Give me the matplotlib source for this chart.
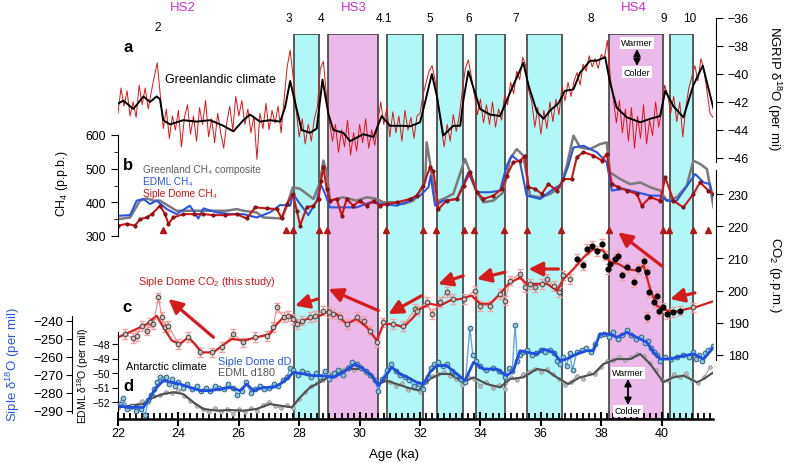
import numpy as np
import matplotlib
matplotlib.use("Agg")
import matplotlib.pyplot as plt
from matplotlib.ticker import MultipleLocator
from matplotlib.transforms import blended_transform_factory

plt.rcParams['font.family'] = ['Liberation Sans', 'DejaVu Sans']
plt.rcParams['mathtext.default'] = 'regular'

# ---------------- data ----------------
cyan_bands = [(27.83, 28.66), (30.90, 32.10), (32.56, 33.43), (33.85, 34.82), (35.54, 36.70), (40.26, 41.05)]
pink_bands = [(28.95, 30.61), (38.27, 40.04)]

do_labels = ['2', '3', '4', '4.1', '5', '6', '7', '8', '9', '10']
do_ages = [23.3, 27.66, 28.72, 30.81, 32.33, 33.62, 35.18, 37.66, 40.08, 40.94]
hs_labels = ['HS2', 'HS3', 'HS4']
hs_ages = [24.15, 29.81, 39.09]

# NGRIP d18O, 0.1 ka steps from 22.0 ka
ngrip_raw = [
    -42.8, -41.0, -42.3, -41.2, -43.0, -42.0, -43.1, -40.8, -42.2, -41.0,
    -42.5, -41.3, -40.2, -39.2, -41.5, -43.9, -42.5, -44.6, -43.0, -44.0,
    -42.6, -45.2, -43.1, -42.2, -44.3, -43.0, -44.8, -42.4, -43.6, -41.9,
    -44.5, -43.2, -44.9, -42.8, -44.2, -45.3, -43.5, -42.3, -44.0, -41.6,
    -43.0, -41.9, -43.6, -42.5, -44.2, -43.0, -46.1, -42.8, -43.9, -42.1,
    -44.0, -42.6, -43.5, -42.3, -44.2, -41.8, -39.5, -38.3, -40.2, -42.6,
    -44.5, -43.2, -45.0, -43.6, -44.8, -43.2, -42.4, -39.6, -39.1, -41.5,
    -43.4, -44.8, -43.6, -45.6, -44.0, -45.2, -43.3, -45.8, -44.2, -45.5,
    -43.6, -44.9, -43.2, -45.3, -44.0, -45.1, -43.5, -42.0, -43.6, -42.4,
    -44.5, -42.7, -44.2, -43.0, -44.8, -42.6, -44.0, -43.1, -44.6, -43.0,
    -42.8, -41.5, -40.6, -39.8, -39.4, -40.5, -42.0, -43.8, -45.2, -43.6,
    -44.8, -42.9, -44.1, -43.0, -41.2, -39.6, -39.0, -40.2, -41.5, -42.9,
    -41.8, -43.5, -42.2, -43.6, -42.0, -43.8, -42.5, -43.3, -41.5, -42.2,
    -40.6, -41.4, -39.8, -40.4, -38.8, -39.4, -41.2, -42.0, -43.8, -42.4,
    -44.3, -42.6, -43.9, -42.0, -43.4, -41.8, -42.9, -40.9, -41.9, -40.6,
    -41.6, -40.5, -39.9, -40.8, -39.3, -39.8, -38.7, -39.5, -38.9, -39.6,
    -38.6, -38.9, -37.6, -40.2, -41.8, -43.5, -41.9, -44.2, -42.5, -44.8,
    -42.4, -45.3, -43.0, -44.6, -42.2, -45.0, -43.3, -44.4, -42.0, -43.8,
    -42.6, -40.8, -41.5, -42.8, -41.6, -43.4, -42.0, -44.5, -42.4, -41.0,
    -40.2, -39.4, -40.5, -38.9, -39.7, -41.2, -42.8, -43.1]
ngrip_smooth_age = [22.01, 22.18, 22.51, 22.84, 23.06, 23.28, 23.39, 23.5, 23.72, 24.16,
                    24.6, 25.05, 25.49, 25.82, 26.15, 26.37, 26.7, 27.03, 27.37, 27.53,
                    27.7, 27.86, 28.08, 28.36, 28.58, 28.77, 28.97, 29.13, 29.46, 29.68,
                    30.12, 30.46, 30.73, 31.01, 31.45, 31.67, 32.0, 32.17, 32.39, 32.55,
                    32.77, 33.1, 33.33, 33.44, 33.6, 33.77, 33.99, 34.32, 34.65, 34.87,
                    35.09, 35.42, 35.59, 35.87, 36.09, 36.31, 36.58, 36.8, 37.08, 37.3,
                    37.63, 37.85, 38.13, 38.29, 38.51, 38.85, 39.29, 39.62, 39.95, 40.12,
                    40.39, 40.72, 41.05, 41.36, 41.72]
ngrip_smooth = [-42.1, -41.9, -42.5, -41.6, -42.0, -41.6, -41.8, -43.3, -43.6, -43.3,
                -43.4, -43.3, -43.7, -44.1, -43.3, -42.9, -43.4, -43.3, -43.4, -42.4,
                -40.5, -42.0, -44.0, -44.2, -43.9, -40.4, -42.9, -44.0, -44.2, -44.8,
                -44.3, -44.5, -43.0, -43.7, -43.7, -43.74, -43.45, -42.0, -40.0, -41.5,
                -44.4, -43.7, -43.7, -41.8, -39.8, -41.0, -42.5, -42.9, -43.0, -41.9,
                -40.8, -39.2, -40.8, -42.7, -43.2, -42.6, -42.1, -41.2, -41.1, -39.9,
                -39.05, -39.05, -38.8, -40.6, -42.4, -43.1, -43.45, -43.2, -43.0, -41.2,
                -42.3, -43.1, -40.8, -39.4, -42.5]

# CH4 (ppb)
grl_ch4_age = [22.0, 22.4, 22.73, 22.95, 23.17, 23.39, 23.94, 24.5, 25.05, 25.6,
               25.93, 26.15, 26.59, 26.81, 27.42, 27.59, 27.79, 28.03, 28.47, 28.69,
               28.8, 28.91, 29.02, 29.46, 29.9, 30.24, 30.57, 30.79, 31.12, 31.45,
               31.78, 32.0, 32.17, 32.22, 32.33, 32.5, 32.77, 33.1, 33.49, 33.66,
               33.88, 34.1, 34.43, 34.76, 34.98, 35.2, 35.42, 35.64, 35.98, 36.31,
               36.64, 36.86, 37.08, 37.3, 37.63, 37.96, 38.18, 38.29, 38.63, 38.96,
               39.29, 39.62, 39.95, 40.17, 40.5, 40.83, 41.05, 41.27, 41.5, 41.72]
grl_ch4 = [350, 355, 405, 412, 405, 405, 375, 375, 375, 375,
           380, 375, 370, 355, 352, 390, 445, 440, 410, 460,
           524, 489, 405, 415, 405, 415, 410, 400, 400, 395,
           405, 435, 460, 578, 519, 400, 410, 425, 529, 489,
           430, 400, 405, 430, 529, 558, 539, 420, 415, 425,
           445, 509, 598, 563, 558, 573, 578, 489, 469, 454,
           459, 445, 435, 405, 415, 449, 524, 514, 499, 385]
edml_ch4_age = [22.0, 22.4, 22.62, 22.84, 23.06, 23.28, 23.61, 23.94, 24.38, 24.66,
                24.83, 25.27, 25.71, 26.15, 26.59, 27.03, 27.37, 27.7, 27.79, 28.03,
                28.3, 28.58, 28.71, 28.86, 29.02, 29.46, 29.9, 30.35, 30.79, 31.23,
                31.67, 32.0, 32.28, 32.35, 32.5, 32.77, 33.22, 33.6, 33.88, 34.32,
                34.65, 34.87, 35.04, 35.31, 35.53, 35.98, 36.42, 36.69, 36.91, 37.08,
                37.41, 37.85, 38.18, 38.35, 38.74, 39.18, 39.62, 39.95, 40.17, 40.5,
                41.11, 41.39, 41.6, 41.77]
edml_ch4 = [360, 362, 405, 410, 395, 405, 380, 365, 390, 352,
            382, 370, 365, 365, 355, 370, 392, 390, 425, 395,
            362, 405, 454, 425, 385, 385, 385, 400, 395, 390,
            405, 420, 445, 479, 390, 405, 410, 489, 430, 430,
            435, 509, 539, 519, 420, 410, 440, 454, 509, 563,
            568, 549, 519, 435, 440, 430, 420, 420, 405, 405,
            484, 459, 454, 390]
siple_ch4_age = [22.0, 22.29, 22.56, 22.73, 22.95, 23.12, 23.39, 23.56, 23.67, 23.83,
                 24.16, 24.5, 24.83, 25.16, 25.54, 25.93, 26.26, 26.54, 26.92, 27.26,
                 27.42, 27.59, 27.79, 27.92, 28.03, 28.25, 28.47, 28.64, 28.72, 28.8,
                 28.91, 29.02, 29.24, 29.41, 29.57, 29.79, 30.02, 30.24, 30.46, 30.68,
                 30.9, 31.23, 31.67, 31.89, 32.11, 32.33, 32.44, 32.61, 32.88, 33.22,
                 33.44, 33.66, 33.88, 34.1, 34.43, 34.71, 34.87, 35.09, 35.31, 35.48,
                 35.59, 35.81, 36.03, 36.25, 36.53, 36.75, 37.02, 37.19, 37.41, 37.74,
                 38.02, 38.18, 38.35, 38.57, 38.85, 39.18, 39.34, 39.62, 39.95, 40.12,
                 40.39, 40.72, 41.05, 41.27, 41.55, 41.72]
siple_ch4 = [331, 336, 331, 350, 355, 365, 390, 365, 336, 355,
             365, 365, 365, 362, 362, 365, 352, 385, 382, 380,
             352, 395, 425, 375, 331, 385, 390, 410, 464, 504,
             440, 405, 410, 360, 410, 390, 405, 390, 405, 390,
             395, 400, 410, 420, 450, 504, 494, 380, 405, 410,
             450, 489, 430, 410, 420, 440, 479, 519, 524, 539,
             445, 440, 425, 454, 435, 469, 469, 534, 549, 539,
             524, 544, 454, 445, 435, 425, 390, 415, 405, 474,
             405, 385, 425, 459, 435, 425]
onset_ages = [23.5, 27.56, 27.79, 28.64, 28.93, 30.88, 32.11, 32.53, 33.44, 33.79,
              34.79, 35.53, 36.67, 38.27, 40.03, 40.25, 41.03, 41.53]

# Siple Dome CO2 (ppm)
co2_line_age = [22.01, 22.29, 22.62, 22.95, 23.28, 23.5, 23.78, 24.05, 24.33, 24.55,
                24.77, 25.16, 25.38, 25.77, 26.15, 26.59, 27.03, 27.26, 27.48, 27.75,
                27.97, 28.25, 28.58, 28.91, 29.24, 29.57, 29.9, 30.24, 30.57, 30.79,
                31.12, 31.45, 31.78, 32.0, 32.33, 32.66, 32.99, 33.33, 33.71, 33.99,
                34.32, 34.65, 34.93, 35.31, 35.53, 35.87, 36.2, 36.53, 36.75, 37.08,
                37.41, 37.74, 38.07, 38.29, 38.57, 38.85, 39.18, 39.4, 39.62, 39.84,
                40.17, 40.5, 40.83, 41.11, 41.77]
co2_line = [185.5, 186.7, 188.1, 189.6, 192.2, 188.6, 184.5, 183.4, 185.5, 183.4,
            180.8, 180.8, 182.4, 185.0, 184.5, 185.5, 186.5, 189.6, 191.7, 192.2,
            189.6, 191.2, 191.7, 193.3, 192.7, 189.6, 191.2, 188.6, 184.5, 189.6,
            189.6, 188.6, 191.7, 194.3, 195.9, 195.3, 196.9, 197.4, 198.4, 195.9,
            195.9, 199.0, 202.1, 204.1, 202.1, 202.1, 202.1, 200.0, 203.6, 206.7,
            210.3, 212.9, 212.4, 208.8, 208.3, 206.7, 206.2, 207.8, 200.5, 195.3,
            193.8, 193.5, 194.3, 194.8, 196.9]
co2_age = [22.23, 22.51, 22.62, 22.78, 22.95, 23.06, 23.17, 23.34, 23.45, 23.56,
           23.67, 24.0, 24.33, 24.72, 25.1, 25.43, 25.82, 26.15, 26.54, 26.92,
           27.14, 27.26, 27.48, 27.64, 27.81, 27.92, 28.08, 28.36, 28.53, 28.8,
           28.97, 29.13, 29.35, 29.57, 29.9, 30.13, 30.35, 30.57, 30.79, 31.12,
           31.45, 31.84, 31.89, 32.22, 32.39, 32.66, 32.88, 33.1, 33.44, 33.82,
           33.99, 34.32, 34.65, 34.82, 34.98, 35.31, 35.48, 35.64, 35.81, 36.03,
           36.2, 36.42, 36.6, 36.75, 36.97, 41.05]
co2_val = [186.5, 185.2, 186.0, 189.1, 187.6, 190.1, 189.6, 197.9, 191.7, 188.6,
           189.1, 183.4, 185.5, 180.8, 180.8, 182.4, 186.5, 183.9, 185.5, 186.0,
           188.6, 194.8, 191.7, 192.2, 191.2, 189.6, 190.7, 191.7, 192.2, 193.8,
           193.3, 192.7, 191.7, 189.6, 191.7, 190.7, 187.6, 183.9, 190.1, 189.6,
           189.1, 194.3, 193.8, 196.4, 192.8, 196.4, 199.5, 197.4, 197.4, 200.0,
           195.3, 195.3, 199.0, 196.9, 203.1, 205.2, 201.0, 202.1, 201.0, 202.1,
           203.6, 201.5, 199.5, 204.7, 203.6, 194.8]
co2_black_age = [37.19, 37.41, 37.52, 37.69, 37.85, 38.02, 38.13, 38.24, 38.29, 38.46,
                 38.57, 38.68, 38.85, 39.07, 39.23, 39.4, 39.51, 39.51, 39.57, 39.73,
                 39.84, 39.9, 40.06, 40.17, 40.39, 40.61]
co2_black_val = [209.8, 207.8, 212.9, 214.0, 212.4, 214.5, 210.9, 206.7, 208.3, 209.8,
                 210.9, 204.7, 207.2, 202.6, 206.7, 209.3, 205.7, 191.7, 199.5, 196.4,
                 198.4, 193.8, 194.8, 192.8, 193.3, 193.8]
co2_err = 1.5
co2_arrows = [((25.16, 185.5), (23.67, 197.4)), ((28.62, 197.4), (27.86, 195.3)),
              ((30.62, 193.8), (28.97, 200.5)), ((32.05, 198.4), (30.95, 192.7)),
              ((33.43, 204.6), (32.60, 202.0)), ((34.81, 205.7), (33.88, 203.6)),
              ((36.58, 206.7), (35.59, 206.7)), ((40.00, 207.7), (38.56, 218.1)),
              ((41.10, 199.3), (40.28, 197.4))]

# Siple Dome dD (per mil)
sd_dd_age = [22.05, 22.15, 22.3, 22.45, 22.6, 22.75, 22.9, 23.0, 23.1, 23.2,
             23.3, 23.4, 23.5, 23.6, 23.7, 23.8, 23.9, 24.0, 24.15, 24.3,
             24.45, 24.6, 24.75, 24.9, 25.05, 25.2, 25.35, 25.5, 25.65, 25.8,
             25.95, 26.1, 26.25, 26.4, 26.55, 26.7, 26.85, 27.0, 27.15, 27.3,
             27.45, 27.6, 27.7, 27.8, 27.95, 28.1, 28.25, 28.4, 28.55, 28.7,
             28.85, 29.0, 29.15, 29.3, 29.45, 29.6, 29.75, 29.9, 30.05, 30.2,
             30.35, 30.5, 30.62, 30.75, 30.9, 31.05, 31.2, 31.35, 31.5, 31.65,
             31.8, 31.95, 32.1, 32.25, 32.35, 32.45, 32.6, 32.75, 32.9, 33.05,
             33.2, 33.35, 33.5, 33.65, 33.75, 33.85, 34.0, 34.2, 34.4, 34.6,
             34.8, 34.95, 35.05, 35.15, 35.22, 35.3, 35.4, 35.55, 35.7, 35.85,
             36.0, 36.15, 36.3, 36.45, 36.55, 36.65, 36.75, 36.85, 36.95, 37.05,
             37.2, 37.35, 37.5, 37.65, 37.8, 37.95, 38.1, 38.25, 38.4, 38.55,
             38.7, 38.85, 39.0, 39.15, 39.3, 39.45, 39.55, 39.65, 39.75, 39.85,
             39.95, 40.1, 40.3, 40.5, 40.7, 40.9, 41.05, 41.15, 41.25, 41.35,
             41.45, 41.55, 41.7]
sd_dd = [-286, -283, -289, -287, -290, -289, -292, -284, -281, -278,
         -274, -271, -272, -271, -275, -272, -276, -274, -277, -275,
         -278, -276, -279, -277, -279, -276, -277, -278, -275, -277,
         -281, -279, -274, -280, -278, -276, -278, -277, -275, -276,
         -273, -271, -266, -267, -270, -268, -269, -271, -269, -271,
         -268, -272, -269, -267, -270, -266, -263, -264, -266, -268,
         -270, -273, -279, -272, -267, -264, -268, -270, -271, -273,
         -276, -275, -278, -271, -266, -264, -263, -265, -264, -268,
         -270, -272, -274, -244, -259, -262, -265, -267, -266, -268,
         -271, -266, -268, -242, -262, -259, -257, -256, -259, -258,
         -256, -257, -256, -258, -262, -264, -260, -265, -258, -267,
         -257, -256, -255, -257, -253, -248, -247, -249, -246, -250,
         -248, -245, -248, -250, -249, -252, -251, -255, -257, -259,
         -262, -260, -261, -260, -259, -260, -257, -261, -259, -262,
         -258, -256, -254]
sd_dd_smooth_age = [22.01, 22.29, 22.62, 22.84, 23.06, 23.28, 23.5, 23.78, 24.05, 24.38,
                    24.72, 25.05, 25.38, 25.71, 26.04, 26.26, 26.48, 26.81, 27.14, 27.37,
                    27.59, 27.81, 28.14, 28.47, 28.8, 29.13, 29.46, 29.85, 30.13, 30.4,
                    30.62, 30.79, 31.06, 31.34, 31.67, 31.89, 32.11, 32.33, 32.55, 32.88,
                    33.22, 33.49, 33.77, 34.1, 34.54, 34.87, 35.09, 35.31, 35.53, 35.87,
                    36.09, 36.42, 36.64, 36.86, 37.19, 37.52, 37.74, 37.96, 38.29, 38.51,
                    38.85, 39.18, 39.51, 39.73, 39.95, 40.28, 40.72, 41.05, 41.39, 41.72]
sd_dd_smooth = [-287.0, -288.0, -288.0, -288.0, -282.4, -276.9, -273.1, -274.1, -275.0, -276.9,
                -278.7, -278.7, -277.8, -276.9, -278.7, -275.0, -278.7, -276.9, -276.9, -275.0,
                -272.2, -268.5, -269.4, -270.4, -270.4, -271.3, -268.5, -263.9, -266.7, -270.4,
                -275.9, -272.2, -265.7, -269.4, -272.0, -274.1, -275.0, -268.5, -264.8, -264.8,
                -269.4, -273.1, -263.0, -266.7, -266.7, -270.4, -267.6, -256.5, -257.4, -258.3,
                -255.6, -257.4, -262.0, -261.1, -258.3, -256.5, -256.5, -247.2, -247.2, -249.1,
                -246.3, -249.1, -251.8, -257.4, -261.1, -261.1, -259.3, -258.3, -261.1, -254.6]

# EDML d18O (per mil), 0.2 ka steps from 22.0 ka
edml_d18o = [
    -52.4, -52.1, -52.4, -52.2, -51.9, -52.0, -51.6, -51.5, -51.3, -51.4,
    -51.2, -51.6, -51.9, -52.3, -52.5, -52.7, -52.4, -52.7, -52.5, -52.8,
    -52.5, -52.7, -52.4, -52.6, -52.2, -52.0, -52.3, -52.4, -52.2, -52.4,
    -51.8, -51.3, -50.9, -50.7, -50.5, -50.1, -50.2, -49.8, -49.6, -49.8,
    -49.5, -50.0, -50.2, -50.9, -50.4, -50.6, -50.9, -50.7, -51.2, -51.0,
    -51.3, -50.6, -50.2, -50.1, -49.9, -50.2, -50.4, -50.8, -50.2, -50.4,
    -50.9, -50.6, -51.0, -50.8, -51.1, -50.3, -50.5, -50.1, -49.9, -49.7,
    -49.9, -49.7, -50.1, -50.4, -50.8, -50.6, -50.2, -50.4, -50.0, -50.1,
    -49.6, -49.2, -49.1, -48.9, -49.1, -48.9, -48.7, -48.8, -49.3, -49.8,
    -50.5, -50.5, -50.1, -50.3, -50.0, -50.5, -50.7, -50.3, -49.6]
edml_smooth_age = [22.01, 22.4, 22.84, 23.17, 23.5, 23.83, 24.16, 24.5, 24.83, 25.27,
                   25.71, 26.15, 26.59, 27.03, 27.37, 27.75, 28.03, 28.36, 28.69, 29.02,
                   29.35, 29.68, 30.02, 30.29, 30.62, 30.9, 31.23, 31.56, 31.95, 32.33,
                   32.66, 33.0, 33.44, 33.77, 34.21, 34.65, 34.98, 35.42, 35.87, 36.2,
                   36.53, 36.91, 37.3, 37.74, 38.07, 38.51, 38.96, 39.29, 39.62, 40.06,
                   40.39, 40.72, 41.17, 41.39, 41.72]
edml_smooth = [-52.37, -52.25, -52.14, -51.68, -51.45, -51.33, -51.45, -52.02, -52.48, -52.6,
               -52.55, -52.6, -52.48, -52.14, -52.25, -52.37, -51.68, -50.99, -50.64, -50.18,
               -49.95, -49.72, -49.72, -49.95, -50.76, -50.53, -50.76, -50.99, -51.2, -50.41,
               -50.07, -50.07, -50.64, -50.3, -50.76, -50.99, -50.41, -50.3, -49.72, -49.84,
               -50.3, -50.76, -50.3, -50.07, -49.38, -49.04, -49.04, -48.69, -49.38, -50.64,
               -50.3, -50.18, -50.64, -50.41, -49.95]

ngrip_age = 22.0 + 0.1 * np.arange(len(ngrip_raw))
edml_age = 22.0 + 0.2 * np.arange(len(edml_d18o))

# ---------------- layout ----------------
W, H = 786.0, 464.0
PX_L, PX_R = 118, 713
XLIM = (22.0, 41.7)

fig = plt.figure(figsize=(7.86, 4.64), dpi=100)


def ftext(px, py, s, **kw):
    kw.setdefault('ha', 'center')
    kw.setdefault('va', 'center')
    return fig.text(px / W, 1 - py / H, s, **kw)


def overlay(v1, p1, v2, p2):
    # transparent axes over the whole figure height, y scaled so v1 sits at pixel row p1, v2 at p2
    ax = fig.add_axes([PX_L / W, 0, (PX_R - PX_L) / W, 1])
    s = (v2 - v1) / (p2 - p1)
    ax.set_ylim(v1 + (H - p1) * s, v1 - p1 * s)
    ax.set_xlim(*XLIM)
    ax.patch.set_visible(False)
    for sp in ax.spines.values():
        sp.set_visible(False)
    ax.set_xticks([])
    ax.set_yticks([])
    return ax


# background: bands + age axis
ax0 = fig.add_axes([PX_L / W, 1 - 420 / H, (PX_R - PX_L) / W, 385 / H])
ax0.set_xlim(*XLIM)
ax0.set_ylim(0, 1)
for a, b in cyan_bands:
    ax0.axvspan(a, b, facecolor='#b2f7f7', edgecolor='#4d4d4d', lw=1.3)
for a, b in pink_bands:
    ax0.axvspan(a, b, facecolor='#ebb9ea', edgecolor='#4d4d4d', lw=1.3)
for s in ['top', 'left', 'right']:
    ax0.spines[s].set_visible(False)
ax0.spines['bottom'].set_linewidth(1.8)
ax0.set_yticks([])
ax0.xaxis.set_major_locator(MultipleLocator(2))
ax0.xaxis.set_minor_locator(MultipleLocator(0.2))
ax0.tick_params(axis='x', which='major', direction='inout', length=10, width=1.5, labelsize=9, pad=1)
ax0.tick_params(axis='x', which='minor', direction='in', length=4.5, width=1.3)

# a: NGRIP
axa = overlay(-36, 19, -46, 159)
axa.plot(ngrip_age, ngrip_raw, color='#dd1515', lw=0.7)
axa.plot(ngrip_smooth_age, ngrip_smooth, color='black', lw=1.4)
axa.spines['right'].set_visible(True)
axa.spines['right'].set_position(('axes', 1.005))
axa.spines['right'].set_bounds(-46.3, -36)
axa.set_yticks([-36, -38, -40, -42, -44, -46])
axa.yaxis.tick_right()
axa.tick_params(axis='y', direction='out', length=5, labelsize=9)

# b: CH4
axb = overlay(600, 136, 300, 237)
axb.plot(grl_ch4_age, grl_ch4, color='#7a7a7a', lw=1.8)
axb.plot(edml_ch4_age, edml_ch4, color='#2b56e0', lw=1.5)
axb.plot(siple_ch4_age, siple_ch4, color='#cc1515', lw=1.5, marker='o', ms=2.4,
         mfc='#b01010', mec='#5a0505', mew=0.5)
axb.plot(onset_ages, np.full(len(onset_ages), 318), '^', color='#b31818', ms=5, clip_on=False)
axb.spines['left'].set_visible(True)
axb.spines['left'].set_bounds(300, 600)
axb.set_yticks([300, 400, 500, 600])
axb.set_yticks([350, 450, 550], minor=True)
axb.tick_params(axis='y', which='both', direction='out', length=5, labelsize=8.8)
axb.tick_params(axis='y', which='minor', length=3)

# c: CO2
axc = overlay(230, 195, 180, 356)
axc.errorbar(co2_age, co2_val, yerr=co2_err, fmt='none', ecolor='#f2a2a2', elinewidth=1.0, capsize=2.5)
axc.errorbar(co2_black_age, co2_black_val, yerr=co2_err, fmt='none', ecolor='#f2a2a2',
             elinewidth=1.0, capsize=2.5)
axc.plot(co2_age[:-1], co2_val[:-1], color='#f08a8a', lw=0.8)
axc.plot(co2_line_age, co2_line, color='#dd1e1e', lw=1.6)
axc.plot(co2_age, co2_val, 'o', ms=3.4, mfc='#d9b8b8', mec='#444444', mew=0.7)
axc.plot(co2_black_age, co2_black_val, 'o', ms=3.4, color='black')
for tail, tip in co2_arrows:
    axc.annotate('', xy=tip, xytext=tail,
                 arrowprops=dict(arrowstyle='-|>,head_length=0.6,head_width=0.3', color='#d41c1c',
                                 lw=2.3, mutation_scale=14, shrinkA=0, shrinkB=0))
axc.spines['right'].set_visible(True)
axc.spines['right'].set_position(('axes', 1.005))
axc.spines['right'].set_bounds(178.5, 237.5)
axc.set_yticks([180, 190, 200, 210, 220, 230])
axc.yaxis.tick_right()
axc.tick_params(axis='y', direction='out', length=5, labelsize=9)

# d: EDML d18O
axe = overlay(-48, 345, -52, 403)
axe.plot(edml_age, edml_d18o, color='#a8a8a8', lw=0.9, marker='o', ms=2.6, mfc='#c0c0c0',
         mec='#8a8a8a', mew=0.5)
axe.plot(edml_smooth_age, edml_smooth, color='#505050', lw=1.5)
axe.spines['left'].set_visible(True)
axe.spines['left'].set_bounds(-53.05, -47.2)
axe.set_yticks([-48, -49, -50, -51, -52])
axe.tick_params(axis='y', direction='out', length=4, labelsize=7.5, pad=2)

# d: Siple Dome dD
axd = overlay(-240, 322, -290, 412)
axd.plot(sd_dd_age, sd_dd, color='#5aa8ee', lw=1.0, marker='o', ms=3.4, mfc='#8cc6de',
         mec='#2f5f82', mew=0.7)
axd.plot(sd_dd_smooth_age, sd_dd_smooth, color='#1f4fe0', lw=2.0)
axd.spines['left'].set_visible(True)
axd.spines['left'].set_position(('axes', (72 - PX_L) / (PX_R - PX_L)))
axd.spines['left'].set_bounds(-291, -237)
axd.set_yticks([-240, -250, -260, -270, -280, -290])
axd.tick_params(axis='y', direction='out', length=4, labelsize=9.5, pad=2)

# ---------------- texts ----------------
trans = blended_transform_factory(ax0.transData, fig.transFigure)
for lab, age in zip(do_labels, do_ages):
    ax0.text(age, 1 - (28 if lab == '2' else 19) / H, lab, transform=trans,
             ha='center', va='center', fontsize=8.5)
for lab, age in zip(hs_labels, hs_ages):
    ax0.text(age, 1 - 8 / H, lab, transform=trans, ha='center', va='center',
             fontsize=9.5, color='#cc33cc')

for px, py, s in [(128, 48, 'a'), (128, 165, 'b'), (127, 307, 'c'), (128, 387, 'd')]:
    ftext(px, py, s, fontsize=12, fontweight='bold')

ftext(165, 80, 'Greenlandic climate', ha='left', fontsize=9)
ftext(143, 170, 'Greenland CH₄ composite', ha='left', fontsize=7.3, color='#606060')
ftext(143, 182, 'EDML CH₄', ha='left', fontsize=7.3, color='#2b56e0')
ftext(143, 194, 'Siple Dome CH₄', ha='left', fontsize=7.3, color='#cc1515')
ftext(138, 282, 'Siple Dome CO$_2$ (this study)', ha='left', fontsize=7.8, color='#cc1515')
ftext(126, 367, 'Antarctic climate', ha='left', fontsize=7.8)
ftext(218, 362, 'Siple Dome dD', ha='left', fontsize=7.8, color='#2b56e0')
ftext(218, 373, 'EDML d180', ha='left', fontsize=7.8, color='#555555')

ftext(62, 184, 'CH$_4$ (p.p.b.)', rotation=90, fontsize=8.8)
ftext(13, 364, 'Siple δ$^{18}$O (per mil)', rotation=90, fontsize=9.5, color='#2b56e0')
ftext(83, 376, 'EDML δ$^{18}$O (per mil)', rotation=90, fontsize=7.5)
ftext(774, 88, 'NGRIP δ$^{18}$O (per mi)', rotation=270, fontsize=9.5)
ftext(775, 275, 'CO$_2$ (p.p.m.)', rotation=270, fontsize=9.5)
ftext(394, 455, 'Age (ka)', fontsize=9.5)

# warmer / colder keys
for px, pw, pc in [(637, 44, 73), (628, 374, 412)]:
    box = dict(facecolor='white', edgecolor='none', pad=1.2)
    ftext(px, pw, 'Warmer', fontsize=6.5, bbox=box)
    ftext(px, pc, 'Colder', fontsize=6.5, bbox=box)
    fig.add_artist(matplotlib.patches.FancyArrowPatch(
        (px / W, 1 - (pw + 6) / H), (px / W, 1 - (pc - 6) / H), transform=fig.transFigure,
        arrowstyle='<|-|>,head_length=0.5,head_width=0.25', mutation_scale=8,
        color='black', lw=1.3, shrinkA=0, shrinkB=0))

fig.savefig('out.png', dpi=100)
